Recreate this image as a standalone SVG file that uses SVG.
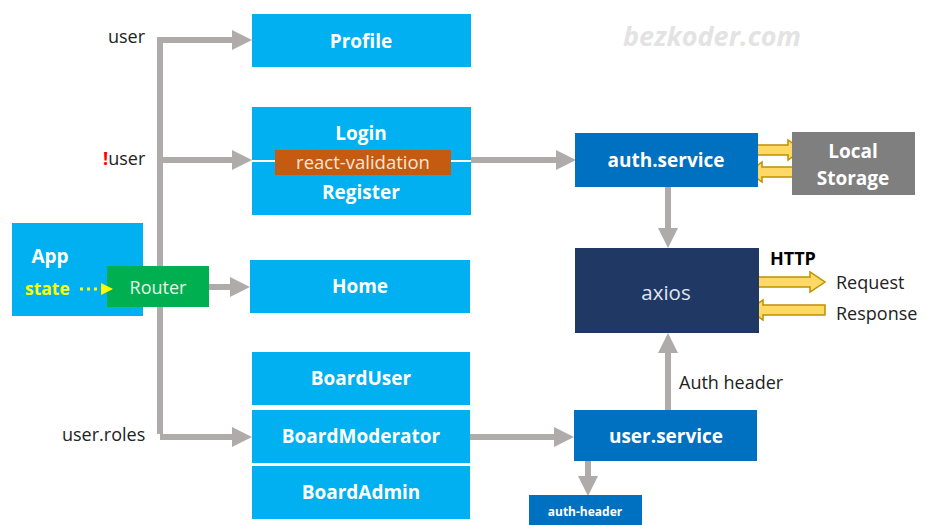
<svg xmlns="http://www.w3.org/2000/svg" width="926" height="525" viewBox="0 0 926 525">
<style>
.lb{fill:#00B0F0}
.db{fill:#0070C0}
.wt{font-family:"Open Sans","Noto Sans",sans-serif;font-weight:bold;font-size:19px;fill:#FFFFFF;text-anchor:middle}
.lbl{font-family:"Open Sans","Noto Sans",sans-serif;font-size:18px;fill:#222222}
.conn{stroke:#AFABAB;stroke-width:6;fill:none}
.yarr{fill:#FFD966;stroke:#BF9000;stroke-width:1.5}
</style>
<defs>
<marker id="ah" markerUnits="userSpaceOnUse" markerWidth="22" markerHeight="22" refX="0" refY="10" orient="auto">
<path d="M0,0 L20,10 L0,20 Z" fill="#AFABAB"/>
</marker>
</defs>
<rect width="926" height="525" fill="#FFFFFF"/>
<text x="712" y="46" font-family="Open Sans, Noto Sans, sans-serif" font-size="27" font-weight="bold" font-style="italic" fill="#E3E3E3" text-anchor="middle">bezkoder.com</text>

<g id="connectors">
<path class="conn" d="M160,434 L160,40 L232,40" marker-end="url(#ah)"/>
<path class="conn" d="M160,160 L232,160" marker-end="url(#ah)"/>
<path class="conn" d="M160,437 L232,437" marker-end="url(#ah)"/>
<path class="conn" d="M209,287 L230,287" marker-end="url(#ah)"/>
<path class="conn" d="M470,160 L556,160" marker-end="url(#ah)"/>
<path class="conn" d="M470,437 L554,437" marker-end="url(#ah)"/>
<path class="conn" d="M668,187 L668,228" marker-end="url(#ah)"/>
<path class="conn" d="M668,410 L668,353" marker-end="url(#ah)"/>
<path class="conn" d="M588,461 L588,476" marker-end="url(#ah)"/>
<polygon class="yarr" points="749,145 788,145 788,140 802,150 788,160 788,155 749,155"/>
<polygon class="yarr" points="800,167 762,167 762,162 749,172 762,182 762,177 800,177"/>
<polygon class="yarr" points="749,277 810,277 810,272 825,282 810,292 810,287 749,287"/>
<polygon class="yarr" points="825,305 763,305 763,300 749,310 763,320 763,315 825,315"/>
<text class="lbl" x="679" y="389" font-size="16.5">Auth header</text>
<text x="770" y="265" font-family="Open Sans, Noto Sans, sans-serif" font-weight="bold" font-size="18" fill="#000000">HTTP</text>
<text class="lbl" x="836" y="289" font-size="19">Request</text>
<text class="lbl" x="836" y="320" font-size="19">Response</text>
</g>

<g id="labels">
<text class="lbl" x="108" y="43">user</text>
<text class="lbl" x="103" y="165"><tspan fill="#FF0000" font-weight="bold">!</tspan>user</text>
<text class="lbl" x="62" y="441">user.roles</text>
</g>

<g id="app">
<rect class="lb" x="12" y="223" width="131" height="93"/>
<text class="wt" x="50" y="263" font-size="22">App</text>
<text x="25" y="295" font-family="Open Sans, Noto Sans, sans-serif" font-weight="bold" font-size="17.5" fill="#FFFF00">state</text>
</g>
<g id="router">
<rect x="107" y="266" width="102" height="41" fill="#00B050"/>
<text x="158" y="294" font-family="Open Sans, Noto Sans, sans-serif" font-size="18" fill="#E8F5E9" text-anchor="middle">Router</text>
</g>
<g id="state-arrow">
<line x1="80" y1="289" x2="100" y2="289" stroke="#FFFF00" stroke-width="3" stroke-dasharray="3,4"/>
<path d="M101,283 L113,289 L101,295 Z" fill="#FFFF00"/>
</g>
<g id="profile">
<rect class="lb" x="252" y="14" width="219" height="53"/>
<text class="wt" x="361" y="48">Profile</text>
</g>
<g id="login-register">
<rect class="lb" x="252" y="107" width="219" height="108"/>
<line x1="252" y1="161" x2="471" y2="161" stroke="#FFFFFF" stroke-width="2"/>
<text class="wt" x="361" y="140">Login</text>
<text class="wt" x="361" y="199">Register</text>
</g>
<g id="react-validation">
<rect x="275" y="150" width="176" height="25" fill="#C55A11"/>
<text x="363" y="169" font-family="Open Sans, Noto Sans, sans-serif" font-size="18.5" fill="#FBE5D6" text-anchor="middle">react-validation</text>
</g>
<g id="home">
<rect class="lb" x="250" y="260" width="220" height="53"/>
<text class="wt" x="360" y="293">Home</text>
</g>
<g id="boarduser">
<rect class="lb" x="252" y="352" width="218" height="53"/>
<text class="wt" x="361" y="385">BoardUser</text>
</g>
<g id="boardmoderator">
<rect class="lb" x="252" y="410" width="218" height="53"/>
<text class="wt" x="361" y="443">BoardModerator</text>
</g>
<g id="boardadmin">
<rect class="lb" x="252" y="466" width="218" height="53"/>
<text class="wt" x="361" y="499">BoardAdmin</text>
</g>
<g id="auth-service">
<rect class="db" x="575" y="133" width="183" height="54"/>
<text class="wt" x="666" y="167">auth.service</text>
</g>
<g id="local-storage">
<rect x="792" y="132" width="123" height="63" fill="#7F7F7F"/>
<text class="wt" x="853" y="158">Local</text>
<text class="wt" x="853" y="185">Storage</text>
</g>
<g id="axios">
<rect x="575" y="248" width="184" height="85" fill="#1F3864"/>
<text x="666" y="300" font-family="Open Sans, Noto Sans, sans-serif" font-size="20.5" fill="#E0E6F0" text-anchor="middle">axios</text>
</g>
<g id="user-service">
<rect class="db" x="574" y="410" width="183" height="51"/>
<text class="wt" x="666" y="443">user.service</text>
</g>
<g id="auth-header">
<rect class="db" x="529" y="495" width="113" height="30"/>
<text x="585" y="516" font-family="Open Sans, Noto Sans, sans-serif" font-weight="bold" font-size="12" fill="#FFFFFF" text-anchor="middle">auth-header</text>
</g>
</svg>
